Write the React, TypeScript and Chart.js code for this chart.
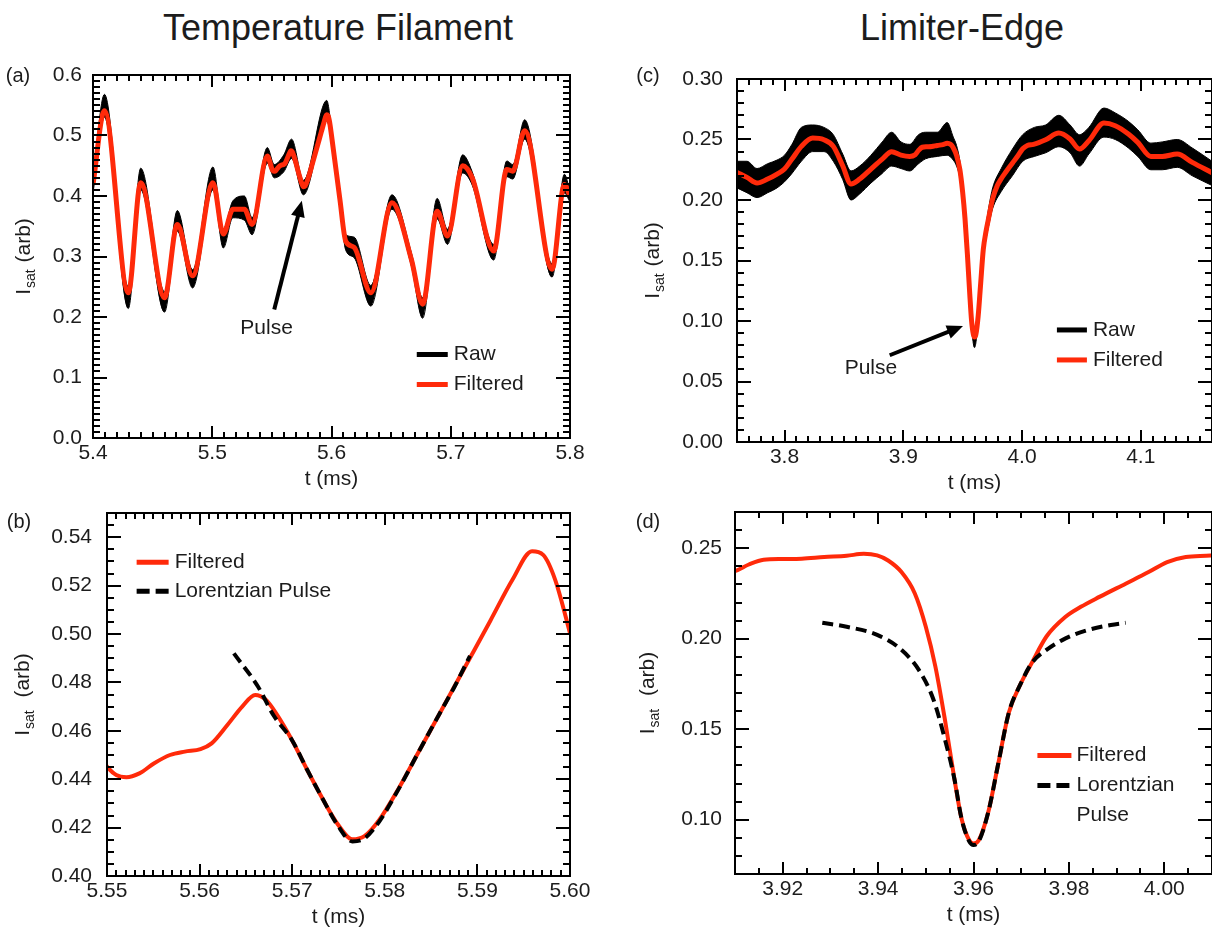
import React, { useEffect, useRef } from "react";
import { Chart, registerables } from "chart.js";

Chart.register(...registerables);

const FONT = '"Liberation Sans", Arial, Helvetica, sans-serif';
const RED = "#ff2a0a";
const INK = "#1c1c1c";

// ---------- Temperature filament: I_sat vs t ----------
const tempTime = [
  5.4, 5.4096, 5.4296, 5.44, 5.46, 5.4707, 5.4835, 5.5006, 5.5093, 5.5173, 5.527, 5.5334, 5.5462,
  5.55, 5.551, 5.5521, 5.5535, 5.5551, 5.5568, 5.5584, 5.5601, 5.5613, 5.563, 5.5646, 5.566,
  5.5671, 5.5683, 5.57, 5.5716, 5.5733, 5.5749, 5.5765, 5.5778, 5.5794, 5.5815, 5.5835, 5.586,
  5.5889, 5.5914, 5.5938, 5.5959, 5.5971, 5.5984, 5.6, 5.607, 5.612, 5.619, 5.633, 5.6507, 5.667,
  5.6764, 5.6886, 5.6973, 5.71, 5.718, 5.736, 5.747, 5.752, 5.762, 5.785, 5.7953, 5.8,
];
const tempFiltered = [
  0.419, 0.541, 0.24, 0.422, 0.232, 0.353, 0.268, 0.422, 0.337, 0.378, 0.378, 0.353, 0.466,
  0.4452, 0.4417, 0.4408, 0.4424, 0.4466, 0.45, 0.4514, 0.4524, 0.4548, 0.4624, 0.47, 0.4748,
  0.473, 0.467, 0.456, 0.444, 0.4318, 0.4215, 0.4152, 0.4165, 0.4232, 0.4362, 0.4502, 0.4677,
  0.488, 0.5055, 0.5225, 0.5342, 0.5327, 0.5224, 0.5003, 0.395, 0.325, 0.315, 0.24, 0.389, 0.295,
  0.221, 0.375, 0.334, 0.45, 0.43, 0.309, 0.444, 0.441, 0.508, 0.279, 0.419, 0.4,
];
// upper / lower envelope of the raw probe signal
const tempRawTime = [
  5.4, 5.4096, 5.4296, 5.44, 5.46, 5.4707, 5.4835, 5.5006, 5.5093, 5.5173, 5.527, 5.5334, 5.5462,
  5.552, 5.56, 5.5665, 5.5765, 5.596, 5.6, 5.607, 5.612, 5.619, 5.633, 5.6507, 5.667, 5.6764,
  5.6886, 5.6973, 5.71, 5.718, 5.736, 5.747, 5.752, 5.762, 5.785, 5.7953, 5.8,
];
const tempRawHigh = [
  0.43, 0.568, 0.25, 0.446, 0.242, 0.376, 0.278, 0.448, 0.346, 0.392, 0.4, 0.364, 0.48,
  0.452, 0.468, 0.494, 0.426, 0.558, 0.512, 0.406, 0.336, 0.332, 0.252, 0.402, 0.306, 0.232,
  0.396, 0.345, 0.468, 0.44, 0.32, 0.458, 0.452, 0.526, 0.288, 0.436, 0.408,
];
const tempRawLow = [
  0.405, 0.53, 0.214, 0.41, 0.208, 0.342, 0.248, 0.41, 0.314, 0.364, 0.36, 0.336, 0.454,
  0.43, 0.44, 0.462, 0.402, 0.524, 0.49, 0.385, 0.31, 0.298, 0.218, 0.378, 0.284, 0.198,
  0.362, 0.32, 0.438, 0.418, 0.294, 0.432, 0.428, 0.494, 0.266, 0.405, 0.39,
];
// Lorentzian pulse fit
const tempFitTime = [
  5.5637, 5.5663, 5.568, 5.57, 5.5716, 5.5733, 5.5749, 5.5765, 5.5778, 5.5794, 5.5815, 5.5835,
  5.586, 5.5875, 5.5892,
];
const tempFit = [
  0.492, 0.4783, 0.4663, 0.456, 0.444, 0.4318, 0.421, 0.4143, 0.4155, 0.4225, 0.436, 0.4502,
  0.4677, 0.478, 0.491,
];

// ---------- Limiter edge: I_sat vs t ----------
const edgeTime = [
  3.76, 3.7684, 3.7769, 3.7858, 3.7937, 3.8, 3.8063, 3.8142, 3.8237, 3.8332, 3.8411, 3.849, 3.856,
  3.8633, 3.8728, 3.8823, 3.8902, 3.8981, 3.9054, 3.91, 3.9129, 3.916, 3.92, 3.924, 3.9287, 3.9334,
  3.937, 3.9398, 3.9421, 3.9449, 3.9477, 3.95, 3.952, 3.954, 3.956, 3.9575, 3.9591, 3.96, 3.9611,
  3.9631, 3.9651, 3.9674, 3.9698, 3.9722, 3.9753, 3.9793, 3.9825, 3.9864, 3.9919, 3.9967, 4.0006,
  4.0045, 4.0097, 4.0199, 4.031, 4.0405, 4.0484, 4.0563, 4.069, 4.0785, 4.0896, 4.0975, 4.1085,
  4.1181, 4.1307, 4.1434, 4.16,
];
const edgeFiltered = [
  0.2228, 0.2187, 0.214, 0.2173, 0.2214, 0.2256, 0.2338, 0.2443, 0.2512, 0.2498, 0.2443, 0.2283,
  0.2132, 0.2173, 0.2256, 0.2338, 0.2399, 0.2371, 0.236, 0.2374, 0.241, 0.2436, 0.244, 0.2442,
  0.2451, 0.2458, 0.2469, 0.246, 0.2432, 0.2368, 0.225, 0.2066, 0.1847, 0.1554, 0.1225, 0.1005,
  0.0886, 0.0868, 0.0886, 0.1042, 0.1298, 0.1591, 0.1746, 0.1865, 0.2012, 0.2121, 0.2176, 0.2231,
  0.2304, 0.2368, 0.2423, 0.2451, 0.246, 0.2498, 0.2553, 0.2504, 0.2421, 0.249, 0.2636, 0.2614,
  0.2545, 0.2476, 0.236, 0.236, 0.238, 0.2311, 0.2225,
];
const edgeRawTime = [
  3.76, 3.7684, 3.7769, 3.7858, 3.7937, 3.8, 3.8063, 3.8142, 3.8237, 3.8332, 3.8411, 3.849, 3.856,
  3.8633, 3.8728, 3.8823, 3.8902, 3.8981, 3.9054, 3.9129, 3.9187, 3.9287, 3.937, 3.9421, 3.9449,
  3.9477, 3.95, 3.952, 3.954, 3.956, 3.9575, 3.96, 3.9631, 3.9651, 3.9674, 3.9698, 3.9722, 3.9753,
  3.9825, 3.9919, 4.0006, 4.0104, 4.0199, 4.031, 4.0405, 4.0484, 4.0563, 4.069, 4.0785, 4.0896,
  4.0975, 4.1085, 4.1181, 4.1307, 4.1434, 4.16,
];
const edgeRawHigh = [
  0.232, 0.232, 0.226, 0.23, 0.233, 0.237, 0.246, 0.26, 0.262, 0.26, 0.254, 0.238, 0.224, 0.228,
  0.237, 0.248, 0.256, 0.248, 0.246, 0.254, 0.256, 0.256, 0.264, 0.252, 0.245, 0.232, 0.212, 0.19,
  0.16, 0.127, 0.105, 0.09, 0.109, 0.135, 0.165, 0.18, 0.195, 0.21, 0.226, 0.242, 0.254, 0.26,
  0.262, 0.27, 0.262, 0.254, 0.26, 0.276, 0.272, 0.265, 0.258, 0.247, 0.248, 0.25, 0.243, 0.232,
];
const edgeRawLow = [
  0.21, 0.206, 0.202, 0.206, 0.21, 0.215, 0.222, 0.232, 0.24, 0.24, 0.232, 0.217, 0.2, 0.205,
  0.214, 0.222, 0.228, 0.226, 0.224, 0.23, 0.234, 0.236, 0.237, 0.233, 0.228, 0.218, 0.2, 0.179,
  0.15, 0.117, 0.095, 0.078, 0.099, 0.125, 0.153, 0.168, 0.18, 0.193, 0.207, 0.22, 0.232, 0.236,
  0.239, 0.244, 0.239, 0.228, 0.238, 0.252, 0.25, 0.243, 0.236, 0.225, 0.225, 0.227, 0.22, 0.212,
];
const edgeFitTime = [
  3.9283, 3.9334, 3.9398, 3.9445, 3.9485, 3.9516, 3.954, 3.956, 3.9575, 3.9591, 3.96, 3.9611,
  3.9631, 3.9651, 3.9674, 3.9698, 3.9722, 3.9753, 3.9793, 3.984, 3.9888, 3.9919,
];
const edgeFit = [
  0.2088, 0.2066, 0.2021, 0.1947, 0.1829, 0.1664, 0.1445, 0.1225, 0.1005, 0.088, 0.086, 0.088,
  0.1042, 0.1298, 0.1591, 0.1746, 0.1865, 0.1938, 0.2002, 0.2048, 0.2076, 0.2088,
];

// ---------- axis ticks ----------
const ticksAx = [5.4, 5.5, 5.6, 5.7, 5.8];
const ticksAy = [0, 0.1, 0.2, 0.3, 0.4, 0.5, 0.6];
const ticksBx = [5.55, 5.56, 5.57, 5.58, 5.59, 5.6];
const ticksBy = [0.4, 0.42, 0.44, 0.46, 0.48, 0.5, 0.52, 0.54];
const ticksCx = [3.8, 3.9, 4.0, 4.1];
const ticksCy = [0, 0.05, 0.1, 0.15, 0.2, 0.25, 0.3];
const ticksDx = [3.92, 3.94, 3.96, 3.98, 4.0];
const ticksDy = [0.1, 0.15, 0.2, 0.25];

const pts = (xs: number[], ys: number[]) => xs.map((x, i) => ({ x, y: ys[i] }));

type LegendItem = { lines: string[]; color: string; dash: number[] };
type PanelSpec = {
  box: { x: number; y: number; w: number; h: number };
  padding: { left: number; top: number; right: number; bottom: number };
  yAxisWidth: number;
  xAxisHeight: number;
  x: { min: number; max: number; ticks: number[]; dec: number; minor: number };
  y: { min: number; max: number; ticks: number[]; dec: number; minor: number; pad: number };
  datasets: any[];
  tag: string;
  tagPos: [number, number];
  yTitleX: number;
  yTitleRest: string;
  legend: { at: [number, number]; sample: number; gap: number; row: number; items: LegendItem[] };
  arrow?: { from: [number, number]; to: [number, number]; text: string; textAt: [number, number] };
};

const rawDatasets = (t: number[], lo: number[], hi: number[]) => [
  {
    label: "Raw",
    data: pts(t, lo),
    borderColor: "#000",
    borderWidth: 1,
    pointRadius: 0,
    cubicInterpolationMode: "monotone",
    fill: false,
    order: 2,
  },
  {
    label: "Raw",
    data: pts(t, hi),
    borderColor: "#000",
    backgroundColor: "#000",
    borderWidth: 1,
    pointRadius: 0,
    cubicInterpolationMode: "monotone",
    fill: "-1",
    order: 1,
  },
];

const filteredDataset = (t: number[], v: number[], order: number, width: number) => ({
  label: "Filtered",
  data: pts(t, v),
  borderColor: RED,
  borderWidth: width,
  pointRadius: 0,
  cubicInterpolationMode: "monotone",
  fill: false,
  order,
});

const fitDataset = (t: number[], v: number[]) => ({
  label: "Lorentzian Pulse",
  data: pts(t, v),
  borderColor: "#000",
  borderWidth: 4,
  borderDash: [11, 6],
  pointRadius: 0,
  cubicInterpolationMode: "monotone",
  fill: false,
  order: 0,
});

const rawItem: LegendItem = { lines: ["Raw"], color: "#000", dash: [] };
const filtItem: LegendItem = { lines: ["Filtered"], color: RED, dash: [] };

const panels: PanelSpec[] = [
  {
    box: { x: 0, y: 60, w: 600, h: 440 },
    padding: { left: 0, top: 15, right: 30, bottom: 10 },
    yAxisWidth: 93,
    xAxisHeight: 52,
    x: { min: 5.4, max: 5.8, ticks: ticksAx, dec: 1, minor: 0.01 },
    y: { min: 0, max: 0.6, ticks: ticksAy, dec: 1, minor: 0.01, pad: 11 },
    datasets: [
      filteredDataset(tempTime, tempFiltered, 0, 5),
      ...rawDatasets(tempRawTime, tempRawLow, tempRawHigh),
    ],
    tag: "(a)",
    tagPos: [18, 16],
    yTitleX: 24,
    yTitleRest: " (arb)",
    legend: { at: [5.6715, 0.138], sample: 31, gap: 6, row: 30, items: [rawItem, filtItem] },
    arrow: { from: [5.552, 0.2125], to: [5.5751, 0.392], text: "Pulse", textAt: [5.5456, 0.182] },
  },
  {
    box: { x: 0, y: 495, w: 600, h: 434 },
    padding: { left: 0, top: 18, right: 30, bottom: 1 },
    yAxisWidth: 107,
    xAxisHeight: 52,
    x: { min: 5.55, max: 5.6, ticks: ticksBx, dec: 2, minor: 0.001 },
    y: { min: 0.4, max: 0.55, ticks: ticksBy, dec: 2, minor: 0.005, pad: 15 },
    datasets: [fitDataset(tempFitTime, tempFit), filteredDataset(tempTime, tempFiltered, 1, 4)],
    tag: "(b)",
    tagPos: [19, 27],
    yTitleX: 23,
    yTitleRest: "  (arb)",
    legend: {
      at: [5.5532, 0.5296],
      sample: 32,
      gap: 6,
      row: 29,
      items: [filtItem, { lines: ["Lorentzian Pulse"], color: "#000", dash: [13, 6] }],
    },
  },
  {
    box: { x: 620, y: 60, w: 592, h: 440 },
    padding: { left: 0, top: 19, right: 0, bottom: 6 },
    yAxisWidth: 117,
    xAxisHeight: 52,
    x: { min: 3.76, max: 4.16, ticks: ticksCx, dec: 1, minor: 0.01 },
    y: { min: 0, max: 0.3, ticks: ticksCy, dec: 2, minor: 0.01, pad: 14 },
    datasets: [
      filteredDataset(edgeTime, edgeFiltered, 0, 5),
      ...rawDatasets(edgeRawTime, edgeRawLow, edgeRawHigh),
    ],
    tag: "(c)",
    tagPos: [28, 16],
    yTitleX: 33,
    yTitleRest: " (arb)",
    legend: { at: [4.0294, 0.0926], sample: 30, gap: 6, row: 30, items: [rawItem, filtItem] },
    arrow: { from: [3.8886, 0.0717], to: [3.9503, 0.0959], text: "Pulse", textAt: [3.8728, 0.0607] },
  },
  {
    box: { x: 620, y: 495, w: 592, h: 434 },
    padding: { left: 0, top: 17, right: 0, bottom: 3 },
    yAxisWidth: 115,
    xAxisHeight: 52,
    x: { min: 3.91, max: 4.01, ticks: ticksDx, dec: 2, minor: 0.005 },
    y: { min: 0.07, max: 0.27, ticks: ticksDy, dec: 2, minor: 0.01, pad: 13 },
    datasets: [fitDataset(edgeFitTime, edgeFit), filteredDataset(edgeTime, edgeFiltered, 1, 4)],
    tag: "(d)",
    tagPos: [28, 27],
    yTitleX: 28,
    yTitleRest: "  (arb)",
    legend: {
      at: [3.9734, 0.1355],
      sample: 34,
      gap: 5,
      row: 30,
      items: [filtItem, { lines: ["Lorentzian", "Pulse"], color: "#000", dash: [13, 6] }],
    },
  },
];

// Box frame with inward major/minor ticks on all four sides
function drawFrame(chart: any, spec: PanelSpec) {
  const ctx: CanvasRenderingContext2D = chart.ctx;
  const a = chart.chartArea;
  const xs = chart.scales.x;
  const ys = chart.scales.y;
  const L = Math.round(a.left);
  const R = Math.round(a.right);
  const T = Math.round(a.top);
  const B = Math.round(a.bottom);
  ctx.save();
  ctx.setLineDash([]);
  ctx.fillStyle = "#000";
  const near = (v: number, majors: number[], step: number) =>
    majors.some((m) => Math.abs(m - v) < step / 10);

  const nx0 = Math.ceil(spec.x.min / spec.x.minor - 1e-6);
  const nx1 = Math.floor(spec.x.max / spec.x.minor + 1e-6);
  for (let k = nx0; k <= nx1; k++) {
    const v = k * spec.x.minor;
    const len = near(v, spec.x.ticks, spec.x.minor) ? 12 : 6;
    const px = Math.round(xs.getPixelForValue(v)) - 1;
    ctx.fillRect(px, B - len, 2, len);
    ctx.fillRect(px, T, 2, len);
  }
  const ny0 = Math.ceil(spec.y.min / spec.y.minor - 1e-6);
  const ny1 = Math.floor(spec.y.max / spec.y.minor + 1e-6);
  for (let k = ny0; k <= ny1; k++) {
    const v = k * spec.y.minor;
    const len = near(v, spec.y.ticks, spec.y.minor) ? 14 : 7;
    const py = Math.round(ys.getPixelForValue(v)) - 1;
    ctx.fillRect(L, py, len, 2);
    ctx.fillRect(R - len, py, len, 2);
  }
  ctx.fillRect(L - 1, T - 1, R - L + 2, 2);
  ctx.fillRect(L - 1, B - 1, R - L + 2, 2);
  ctx.fillRect(L - 1, T - 1, 2, B - T + 2);
  ctx.fillRect(R - 1, T - 1, 2, B - T + 2);
  ctx.restore();
}

// Panel tag, y-axis title with subscript, in-plot legend and arrow annotation
function drawNotes(chart: any, spec: PanelSpec) {
  const ctx: CanvasRenderingContext2D = chart.ctx;
  const a = chart.chartArea;
  const xs = chart.scales.x;
  const ys = chart.scales.y;
  ctx.save();
  ctx.setLineDash([]);
  ctx.fillStyle = INK;
  ctx.textBaseline = "middle";

  ctx.font = `20px ${FONT}`;
  ctx.textAlign = "center";
  ctx.fillText(spec.tag, spec.tagPos[0], spec.tagPos[1]);

  // y title: I_sat (arb)
  ctx.save();
  ctx.translate(spec.yTitleX, (a.top + a.bottom) / 2);
  ctx.rotate(-Math.PI / 2);
  const big = `21px ${FONT}`;
  const small = `14px ${FONT}`;
  ctx.font = big;
  const w1 = ctx.measureText("I").width;
  const w3 = ctx.measureText(spec.yTitleRest).width;
  ctx.font = small;
  const w2 = ctx.measureText("sat").width;
  const x0 = -(w1 + w2 + w3 + 2) / 2;
  ctx.textAlign = "left";
  ctx.font = big;
  ctx.fillText("I", x0, 0);
  ctx.font = small;
  ctx.fillText("sat", x0 + w1 + 1, 7);
  ctx.font = big;
  ctx.fillText(spec.yTitleRest, x0 + w1 + w2 + 2, 0);
  ctx.restore();

  // legend
  const lg = spec.legend;
  const lx = xs.getPixelForValue(lg.at[0]);
  let ly = ys.getPixelForValue(lg.at[1]);
  ctx.font = `21px ${FONT}`;
  ctx.textAlign = "left";
  lg.items.forEach((it) => {
    ctx.strokeStyle = it.color;
    ctx.lineWidth = 5;
    ctx.lineCap = "butt";
    ctx.setLineDash(it.dash);
    ctx.beginPath();
    ctx.moveTo(lx, ly);
    ctx.lineTo(lx + lg.sample, ly);
    ctx.stroke();
    ctx.setLineDash([]);
    it.lines.forEach((line, j) => {
      ctx.fillText(line, lx + lg.sample + lg.gap, ly + j * lg.row);
    });
    ly += lg.row * it.lines.length;
  });

  // arrow pointing at the pulse
  if (spec.arrow) {
    const ar = spec.arrow;
    const x1 = xs.getPixelForValue(ar.from[0]);
    const y1 = ys.getPixelForValue(ar.from[1]);
    const x2 = xs.getPixelForValue(ar.to[0]);
    const y2 = ys.getPixelForValue(ar.to[1]);
    const ang = Math.atan2(y2 - y1, x2 - x1);
    const head = 16;
    const half = 7;
    const bx = x2 - head * Math.cos(ang);
    const by = y2 - head * Math.sin(ang);
    ctx.strokeStyle = "#000";
    ctx.fillStyle = "#000";
    ctx.lineWidth = 4;
    ctx.beginPath();
    ctx.moveTo(x1, y1);
    ctx.lineTo(bx + 2 * Math.cos(ang), by + 2 * Math.sin(ang));
    ctx.stroke();
    ctx.beginPath();
    ctx.moveTo(x2, y2);
    ctx.lineTo(bx + half * Math.sin(ang), by - half * Math.cos(ang));
    ctx.lineTo(bx - half * Math.sin(ang), by + half * Math.cos(ang));
    ctx.closePath();
    ctx.fill();
    ctx.fillStyle = INK;
    ctx.textAlign = "center";
    ctx.font = `21px ${FONT}`;
    ctx.fillText(ar.text, xs.getPixelForValue(ar.textAt[0]), ys.getPixelForValue(ar.textAt[1]));
  }
  ctx.restore();
}

function buildConfig(spec: PanelSpec): any {
  const tickFont = { family: FONT, size: 21, lineHeight: 1 };
  return {
    type: "line",
    data: { datasets: spec.datasets },
    options: {
      responsive: false,
      maintainAspectRatio: false,
      animation: false,
      events: [],
      layout: { padding: spec.padding },
      plugins: { legend: { display: false }, tooltip: { enabled: false } },
      scales: {
        x: {
          type: "linear",
          min: spec.x.min,
          max: spec.x.max,
          afterBuildTicks: (s: any) => {
            s.ticks = spec.x.ticks.map((value) => ({ value }));
          },
          afterFit: (s: any) => {
            s.height = spec.xAxisHeight;
            s.paddingLeft = 0;
            s.paddingRight = 0;
          },
          grid: { display: false, drawTicks: false },
          border: { display: false },
          ticks: {
            autoSkip: false,
            maxRotation: 0,
            padding: 5,
            font: tickFont,
            color: INK,
            callback: (v: any) => Number(v).toFixed(spec.x.dec),
          },
          title: {
            display: true,
            text: "t (ms)",
            color: INK,
            font: tickFont,
            padding: 0,
          },
        },
        y: {
          type: "linear",
          min: spec.y.min,
          max: spec.y.max,
          afterBuildTicks: (s: any) => {
            s.ticks = spec.y.ticks.map((value) => ({ value }));
          },
          afterFit: (s: any) => {
            s.width = spec.yAxisWidth;
            s.paddingTop = 0;
            s.paddingBottom = 0;
          },
          grid: { display: false, drawTicks: false },
          border: { display: false },
          ticks: {
            autoSkip: false,
            padding: spec.y.pad,
            font: tickFont,
            color: INK,
            callback: (v: any) => Number(v).toFixed(spec.y.dec),
          },
        },
      },
    },
    plugins: [
      {
        id: "panelDecor",
        afterDraw(chart: any) {
          drawFrame(chart, spec);
          drawNotes(chart, spec);
        },
      },
    ],
  };
}

function Panel({ spec }: { spec: PanelSpec }) {
  const ref = useRef<HTMLCanvasElement>(null);
  useEffect(() => {
    const chart = new Chart(ref.current as HTMLCanvasElement, buildConfig(spec));
    return () => chart.destroy();
  }, [spec]);
  return (
    <canvas
      ref={ref}
      width={spec.box.w}
      height={spec.box.h}
      style={{
        position: "absolute",
        left: spec.box.x,
        top: spec.box.y,
        width: spec.box.w,
        height: spec.box.h,
      }}
    />
  );
}

const titleStyle = (cx: number): React.CSSProperties => ({
  position: "absolute",
  left: cx,
  top: 10,
  transform: "translateX(-50%)",
  font: `36px ${FONT}`,
  lineHeight: "36px",
  color: INK,
  whiteSpace: "nowrap",
});

export default function App() {
  return (
    <div
      style={{
        position: "absolute",
        left: 0,
        top: 0,
        width: 1212,
        height: 929,
        background: "#fff",
        overflow: "hidden",
      }}
    >
      <div style={titleStyle(338)}>Temperature Filament</div>
      <div style={titleStyle(962)}>Limiter-Edge</div>
      {panels.map((p) => (
        <Panel key={p.tag} spec={p} />
      ))}
    </div>
  );
}
